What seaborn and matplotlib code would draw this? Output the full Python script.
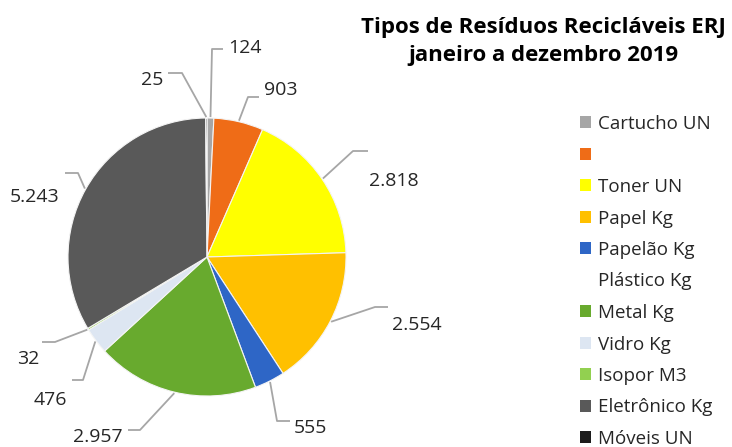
import matplotlib
matplotlib.use("Agg")
import numpy as np
import matplotlib.pyplot as plt
from matplotlib.patches import Patch
import seaborn as sns

# data
categories = ["Cartucho UN", "", "Toner UN", "Papel Kg", "Papelão Kg", "Plástico Kg",
              "Metal Kg", "Vidro Kg", "Isopor M3", "Eletrônico Kg", "Móveis UN"]
values = [124, 903, 2818, 2554, 555, 0, 2957, 476, 32, 5243, 25]
colors = ["#a6a6a6", "#ef6c17", "#ffff00", "#ffc000", "#2e66c6", "none",
          "#68aa2e", "#dde6f2", "#92d050", "#595959", "#1c1c1c"]

# label layout in image pixels (x, y from top): elbow, end of tail, text centre
elbows = [(212, 49), (248, 97), (353, 151), (375, 307), (277, 421),
          (140, 430), (83, 380), (55, 342), (78, 173), (182, 73)]
tails = [(223, 49), (259, 97), (368, 151), (388, 307), (290, 421),
         (128, 430), (72, 380), (42, 342), (65, 173), (168, 73)]
text_pos = [(245, 48), (281, 90), (394, 181), (417, 325), (310, 428),
            (98, 437), (50, 400), (28, 359), (35, 197), (152, 80)]

W, H = 732, 447
CENTER = (207, H - 257)
RADIUS = 139

sns.set_theme(style="white")
plt.rcParams["font.family"] = ["Open Sans", "DejaVu Sans"]

fig = plt.figure(figsize=(W / 100, H / 100), dpi=100)
ax = fig.add_axes([0, 0, 1, 1])

pie_vals = [v for v in values if v > 0]
pie_cols = [c for v, c in zip(values, colors) if v > 0]

wedges, _ = ax.pie(
    pie_vals,
    colors=pie_cols,
    startangle=90,
    counterclock=False,
    center=CENTER,
    radius=RADIUS,
    wedgeprops=dict(edgecolor="#f4f4f4", linewidth=0.8),
)

def fmt(v):
    return f"{v:,}".replace(",", ".")

for w, v, (ex, ey), (tx, ty), (lx, ly) in zip(wedges, pie_vals, elbows, tails, text_pos):
    mid = np.deg2rad((w.theta1 + w.theta2) / 2)
    ax_ = CENTER[0] + (RADIUS + 1) * np.cos(mid)
    ay_ = CENTER[1] + (RADIUS + 1) * np.sin(mid)
    ax.plot([ax_, ex, tx], [ay_, H - ey, H - ty], color="#a6a6a6", lw=1.3,
            solid_capstyle="butt", zorder=1)
    ax.text(lx, H - ly, fmt(v), ha="center", va="center", fontsize=14,
            color="#262626")

ax.text(543, H - 27, "Tipos de Resíduos Recicláveis ERJ", ha="center",
        va="center", fontsize=16, fontweight="bold", color="black")
ax.text(543, H - 55, "janeiro a dezembro 2019", ha="center",
        va="center", fontsize=16, fontweight="bold", color="black")

handles = [Patch(facecolor=c, edgecolor="none") for c in colors]
leg = ax.legend(
    handles, categories,
    loc="upper left",
    bbox_to_anchor=(580 / W, 1 - 115 / H),
    frameon=False,
    fontsize=13.5,
    handlelength=0.6,
    handleheight=0.6,
    handletextpad=0.35,
    labelspacing=0.72,
    borderpad=0,
    borderaxespad=0,
)
for t in leg.get_texts():
    t.set_color("#262626")

ax.set_xlim(0, W)
ax.set_ylim(0, H)
ax.set_aspect("equal")
ax.axis("off")

fig.savefig("out.png", dpi=100)
